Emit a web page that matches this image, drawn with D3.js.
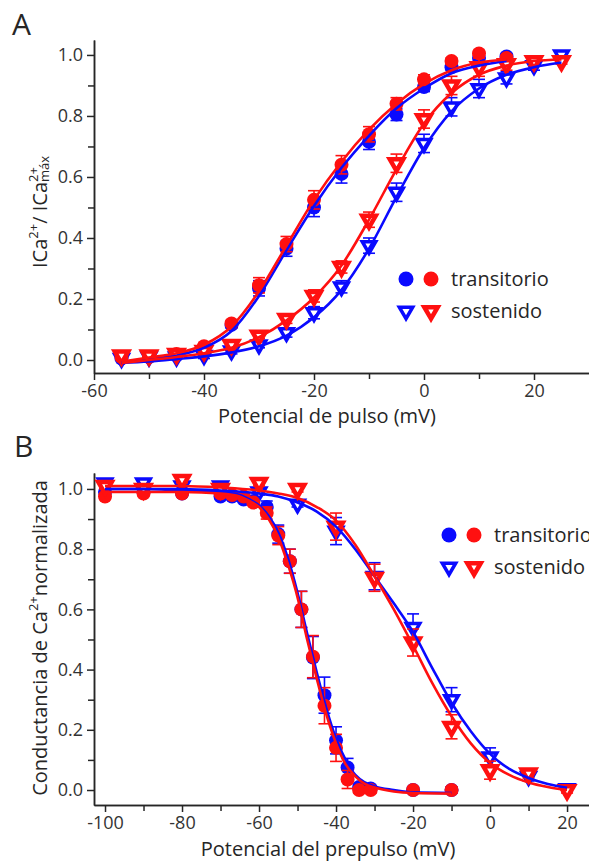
<!DOCTYPE html>
<html>
<head>
<meta charset="utf-8">
<script src="https://cdn.jsdelivr.net/npm/d3@7"></script>
<style>
  body { margin: 0; background: #fff; }
  svg text { font-family: "Open Sans", sans-serif; fill: #262626; }
  .axis path, .axis line { stroke: #262626; stroke-width: 1.5px; }
  .axis text { font-size: 18px; fill: #333; font-family: "Open Sans", sans-serif; }
</style>
</head>
<body>
<div class="container"></div>
<script>
const blue = '#0a0aff';
const red = '#ff1010';

// ---- Panel A: activation ----
const pulseV = [-55, -50, -45, -40, -35, -30, -25, -20, -15, -10, -5, 0, 5, 10, 15, 20, 25];
const transVA = [-55, -50, -45, -40, -35, -30, -25, -20, -15, -10, -5, 0, 5, 10, 15];
const transBlueA = [0.005, 0.01, 0.015, 0.04, 0.115, 0.235, 0.365, 0.5, 0.61, 0.715, 0.805, 0.895, 0.96, 0.99, 0.995];
const transRedA = [0.01, 0.01, 0.02, 0.045, 0.12, 0.245, 0.38, 0.525, 0.64, 0.74, 0.84, 0.92, 0.98, 1.005, 0.99];
const transErrA = [0.005, 0.005, 0.01, 0.01, 0.01, 0.025, 0.025, 0.03, 0.03, 0.025, 0.02, 0.015, 0.01, 0.01, 0.01];
const susBlueA = [0.005, 0.01, 0.01, 0.015, 0.03, 0.05, 0.09, 0.155, 0.24, 0.375, 0.55, 0.71, 0.83, 0.89, 0.925, 0.965, 1.0];
const susRedA = [0.015, 0.015, 0.02, 0.03, 0.05, 0.08, 0.135, 0.21, 0.305, 0.46, 0.645, 0.79, 0.9, 0.96, 0.97, 0.98, 0.98];
const susErrA = [0.005, 0.005, 0.005, 0.01, 0.01, 0.01, 0.015, 0.02, 0.02, 0.025, 0.03, 0.03, 0.03, 0.03, 0.02, 0.015, 0.01];

// fitted curves
const fitTransBlueA = [-0.008, 0.004, 0.015, 0.04, 0.095, 0.21, 0.36, 0.505, 0.63, 0.735, 0.825, 0.89, 0.94, 0.965, 0.98];
const fitTransRedA = [-0.005, 0.008, 0.022, 0.05, 0.11, 0.225, 0.375, 0.525, 0.65, 0.755, 0.84, 0.905, 0.95, 0.975, 0.985];
const fitSusBlueA = [-0.01, -0.005, 0.003, 0.012, 0.025, 0.045, 0.08, 0.14, 0.23, 0.365, 0.535, 0.695, 0.815, 0.89, 0.935, 0.96, 0.975];
const fitSusRedA = [-0.01, 0.0, 0.01, 0.022, 0.04, 0.075, 0.13, 0.205, 0.31, 0.46, 0.625, 0.775, 0.875, 0.935, 0.965, 0.98, 0.985];

// ---- Panel B: inactivation ----
const transVB = [-100, -90, -80, -70, -67, -64, -61.5, -58, -55, -52, -49, -46, -43, -40, -37, -34, -31, -20, -10];
const transBlueB = [0.99, 0.99, 0.985, 0.975, 0.975, 0.965, 0.96, 0.94, 0.85, 0.76, 0.6, 0.44, 0.315, 0.165, 0.075, 0.01, 0.005, 0.0, 0.0];
const transRedB = [0.975, 0.985, 0.985, 0.985, 0.98, 0.975, 0.955, 0.92, 0.845, 0.76, 0.6, 0.443, 0.28, 0.14, 0.035, 0.0, 0.0, 0.0, 0.0];
const transErrB = [0.01, 0.01, 0.01, 0.01, 0.01, 0.01, 0.01, 0.02, 0.03, 0.04, 0.06, 0.07, 0.06, 0.045, 0.03, 0.01, 0.01, 0.01, 0.01];
const susVB = [-100, -90, -80, -70, -60, -50, -40, -30, -20, -10, 0, 10, 20];
const susBlueB = [1.02, 1.02, 1.01, 1.01, 0.99, 0.95, 0.86, 0.71, 0.54, 0.3, 0.11, 0.045, 0.005];
const susRedB = [1.01, 1.0, 1.03, 1.0, 1.02, 1.0, 0.875, 0.705, 0.49, 0.21, 0.066, 0.055, 0.0];
const susErrB = [0.01, 0.01, 0.01, 0.01, 0.01, 0.01, 0.045, 0.045, 0.045, 0.04, 0.03, 0.015, 0.01];

const fitTransVB = [-100, -90, -80, -70, -65, -62.5, -60, -57.5, -55, -52.5, -50, -47.5, -45, -42.5, -40, -37.5, -35, -32.5, -30, -25, -20, -10];
const fitTransBlueB = [1.0, 1.0, 0.995, 0.99, 0.98, 0.965, 0.945, 0.91, 0.855, 0.77, 0.655, 0.52, 0.39, 0.27, 0.17, 0.1, 0.05, 0.025, 0.012, 0.0, -0.008, -0.01];
const fitTransRedB = [0.99, 0.99, 0.99, 0.985, 0.975, 0.96, 0.94, 0.9, 0.84, 0.75, 0.64, 0.5, 0.37, 0.25, 0.155, 0.085, 0.045, 0.02, 0.008, -0.005, -0.01, -0.012];
const fitSusVB = [-100, -90, -80, -70, -60, -55, -50, -45, -40, -35, -30, -25, -20, -15, -10, -5, 0, 5, 10, 15, 20];
const fitSusBlueB = [1.0, 1.0, 1.0, 0.995, 0.985, 0.975, 0.955, 0.925, 0.875, 0.8, 0.71, 0.62, 0.525, 0.405, 0.29, 0.195, 0.12, 0.07, 0.04, 0.02, 0.007];
const fitSusRedB = [1.01, 1.01, 1.01, 1.005, 0.995, 0.985, 0.97, 0.94, 0.895, 0.815, 0.71, 0.6, 0.48, 0.355, 0.245, 0.155, 0.09, 0.05, 0.025, 0.01, 0.0];

const legendLabels = ['transitorio', 'sostenido'];

const svg = d3.select('.container')
              .append('svg')
              .attr('width', 589)
              .attr('height', 863);

const zip = (xs, ys, es) => xs.map((x, i) => ({x: x, y: ys[i], e: es ? es[i] : 0}));

const triangle = d3.symbol().type(d3.symbolTriangle).size(78);

function drawAxes(x, y, xMajor, xMinor, yX, xY) {
  //major + minor ticks on x (plain hyphen for negatives, as in the original)
  svg.append('g').attr('class', 'axis')
     .attr('transform', `translate(0,${xY})`)
     .call(d3.axisBottom(x).tickValues(xMajor).tickSize(7).tickPadding(4).tickSizeOuter(0).tickFormat(d => String(d)));
  svg.append('g').attr('class', 'axis')
     .attr('transform', `translate(0,${xY})`)
     .call(d3.axisBottom(x).tickValues(xMinor).tickSize(6).tickSizeOuter(0).tickFormat(''));
  //major + minor ticks on y
  svg.append('g').attr('class', 'axis')
     .attr('transform', `translate(${yX},0)`)
     .call(d3.axisLeft(y).tickValues([0, 0.2, 0.4, 0.6, 0.8, 1.0]).tickSize(7).tickPadding(4).tickSizeOuter(0).tickFormat(d3.format('.1f')));
  svg.append('g').attr('class', 'axis')
     .attr('transform', `translate(${yX},0)`)
     .call(d3.axisLeft(y).tickValues([0.1, 0.3, 0.5, 0.7, 0.9]).tickSize(6).tickSizeOuter(0).tickFormat(''));
}

function drawErrors(g, pts, x, y, color) {
  const eb = g.append('g').selectAll('g').data(pts.filter(d => d.e > 0)).enter().append('g')
              .attr('stroke', color).attr('stroke-width', 1.6);
  eb.append('line')
    .attr('x1', d => x(d.x)).attr('x2', d => x(d.x))
    .attr('y1', d => y(d.y - d.e)).attr('y2', d => y(d.y + d.e));
  [-1, 1].forEach(s => {
    eb.append('line')
      .attr('x1', d => x(d.x) - 6).attr('x2', d => x(d.x) + 6)
      .attr('y1', d => y(d.y + s * d.e)).attr('y2', d => y(d.y + s * d.e));
  });
}

function drawCircles(g, pts, x, y, color) {
  g.append('g').selectAll('circle').data(pts).enter().append('circle')
   .attr('cx', d => x(d.x)).attr('cy', d => y(d.y)).attr('r', 7)
   .attr('fill', color);
}

function drawTriangles(g, pts, x, y, color, sw) {
  g.append('g').selectAll('path').data(pts).enter().append('path')
   .attr('d', triangle)
   .attr('transform', d => `translate(${x(d.x)},${y(d.y)}) rotate(180)`)
   .attr('fill', '#fff').attr('stroke', color).attr('stroke-width', sw);
}

function drawFit(g, xs, ys, x, y, color) {
  const line = d3.line().x(d => x(d[0])).y(d => y(d[1])).curve(d3.curveMonotoneX);
  g.append('path')
   .datum(xs.map((v, i) => [v, ys[i]]))
   .attr('d', line)
   .attr('fill', 'none').attr('stroke', color).attr('stroke-width', 2.6);
}

function drawLegend(lx, ly, gap) {
  const g = svg.append('g').attr('transform', `translate(${lx},${ly})`);
  [blue, red].forEach((c, i) => {
    g.append('circle').attr('cx', i * 25).attr('cy', 0).attr('r', 7.5).attr('fill', c);
    g.append('path').attr('d', triangle)
     .attr('transform', `translate(${i * 25},${gap}) rotate(180)`)
     .attr('fill', '#fff').attr('stroke', c).attr('stroke-width', i ? 4.5 : 3.5);
  });
  legendLabels.forEach((t, i) => {
    g.append('text').attr('x', 45).attr('y', i * gap + 7).style('font-size', '20px').text(t);
  });
}

// ================= Panel A =================
const xA = d3.scaleLinear().domain([-60, 30]).range([94, 589]);
const yA = d3.scaleLinear().domain([-0.0426, 1.049]).range([373, 40]);
drawAxes(xA, yA, [-60, -40, -20, 0, 20], [-50, -30, -10, 10], 94, 373);

const gA = svg.append('g');
drawErrors(gA, zip(transVA, transBlueA, transErrA), xA, yA, blue);
drawErrors(gA, zip(pulseV, susBlueA, susErrA), xA, yA, blue);
drawCircles(gA, zip(transVA, transBlueA), xA, yA, blue);
drawTriangles(gA, zip(pulseV, susBlueA), xA, yA, blue, 3.5);
drawErrors(gA, zip(transVA, transRedA, transErrA), xA, yA, red);
drawErrors(gA, zip(pulseV, susRedA, susErrA), xA, yA, red);
drawCircles(gA, zip(transVA, transRedA), xA, yA, red);
drawTriangles(gA, zip(pulseV, susRedA), xA, yA, red, 4.5);
drawFit(gA, transVA, fitTransBlueA, xA, yA, blue);
drawFit(gA, pulseV, fitSusBlueA, xA, yA, blue);
drawFit(gA, transVA, fitTransRedA, xA, yA, red);
drawFit(gA, pulseV, fitSusRedA, xA, yA, red);

drawLegend(406, 279, 32);

svg.append('text').attr('x', 12).attr('y', 35).style('font-size', '30px').text('A');

svg.append('text')
   .attr('x', 327).attr('y', 423)
   .attr('text-anchor', 'middle').style('font-size', '20px')
   .text('Potencial de pulso (mV)');

const yLabA = svg.append('text')
   .attr('transform', 'translate(47,212) rotate(-90)')
   .attr('text-anchor', 'middle').style('font-size', '20px');
yLabA.append('tspan').text('ICa');
yLabA.append('tspan').attr('dy', -9).style('font-size', '13px').text('2+');
yLabA.append('tspan').attr('dy', 9).text('/ ICa');
yLabA.append('tspan').attr('dy', -9).style('font-size', '13px').text('2+');
yLabA.append('tspan').attr('dx', -15).attr('dy', 11).style('font-size', '13px').text('máx');

// ================= Panel B =================
const xB = d3.scaleLinear().domain([-102.86, 25.7]).range([94, 589]);
const yB = d3.scaleLinear().domain([-0.0498, 1.053]).range([805, 473]);
drawAxes(xB, yB, [-100, -80, -60, -40, -20, 0, 20], [-90, -70, -50, -30, -10, 10], 94, 805);

const gB = svg.append('g');
drawErrors(gB, zip(transVB, transBlueB, transErrB), xB, yB, blue);
drawErrors(gB, zip(susVB, susBlueB, susErrB), xB, yB, blue);
drawCircles(gB, zip(transVB, transBlueB), xB, yB, blue);
drawTriangles(gB, zip(susVB, susBlueB), xB, yB, blue, 3.5);
drawErrors(gB, zip(transVB, transRedB, transErrB), xB, yB, red);
drawErrors(gB, zip(susVB, susRedB, susErrB), xB, yB, red);
drawCircles(gB, zip(transVB, transRedB), xB, yB, red);
drawTriangles(gB, zip(susVB, susRedB), xB, yB, red, 4.5);
drawFit(gB, fitTransVB, fitTransBlueB, xB, yB, blue);
drawFit(gB, fitSusVB, fitSusBlueB, xB, yB, blue);
drawFit(gB, fitTransVB, fitTransRedB, xB, yB, red);
drawFit(gB, fitSusVB, fitSusRedB, xB, yB, red);

drawLegend(449, 535, 32);

svg.append('text').attr('x', 14).attr('y', 457).style('font-size', '30px').text('B');

svg.append('text')
   .attr('x', 328).attr('y', 856)
   .attr('text-anchor', 'middle').style('font-size', '20px')
   .text('Potencial del prepulso (mV)');

const yLabB = svg.append('text')
   .attr('transform', 'translate(47,638) rotate(-90)')
   .attr('text-anchor', 'middle').style('font-size', '20px');
yLabB.append('tspan').text('Conductancia de Ca');
yLabB.append('tspan').attr('dy', -9).style('font-size', '13px').text('2+');
yLabB.append('tspan').attr('dy', 9).text('normalizada');
</script>
</body>
</html>
